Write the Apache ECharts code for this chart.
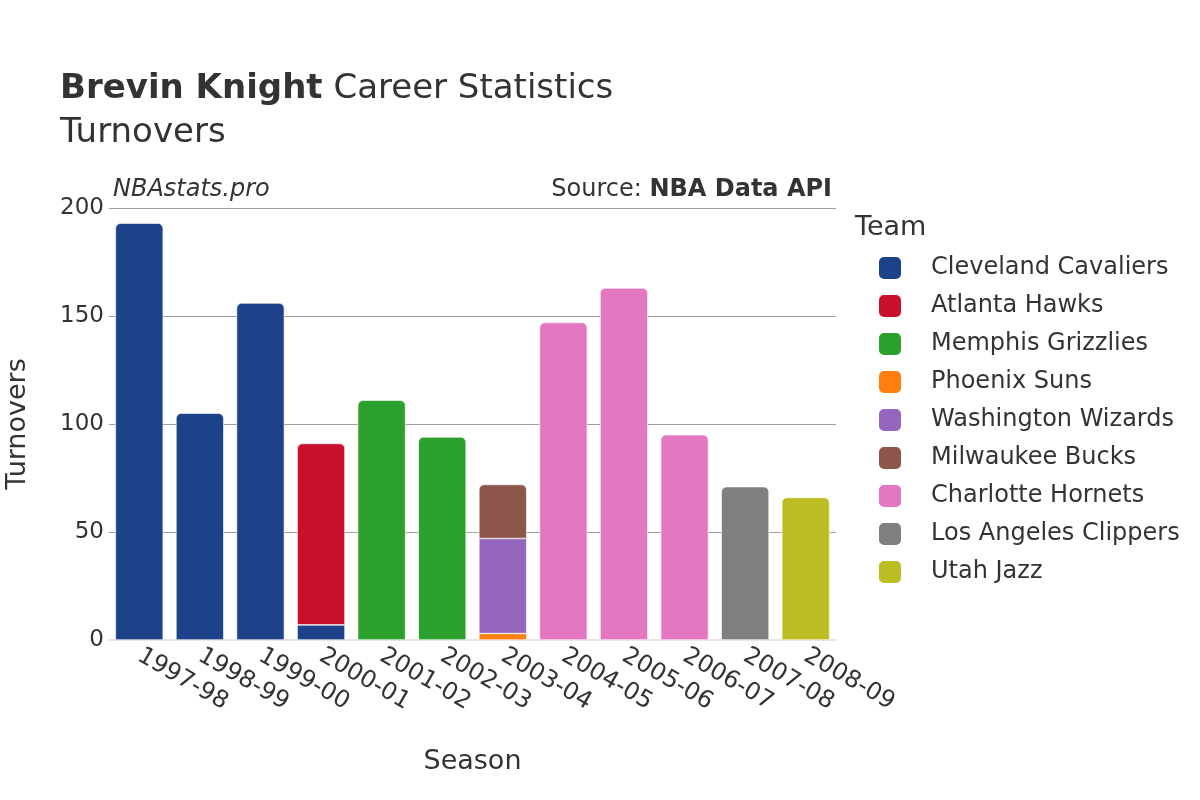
<!DOCTYPE html>
<html>
<head>
<meta charset="utf-8">
<script src="https://cdn.jsdelivr.net/npm/echarts@6/dist/echarts.min.js"></script>
<style>html,body{margin:0;padding:0;background:#fff}#c{width:1200px;height:800px}</style>
</head>
<body>
<div id="c"></div>
<script>
const seasons = ['1997-98','1998-99','1999-00','2000-01','2001-02','2002-03','2003-04','2004-05','2005-06','2006-07','2007-08','2008-09'];
const teams = ['Cleveland Cavaliers','Atlanta Hawks','Memphis Grizzlies','Phoenix Suns','Washington Wizards','Milwaukee Bucks','Charlotte Hornets','Los Angeles Clippers','Utah Jazz'];
const teamColors = ['#1d428a','#c8102e','#2ca02c','#ff7f0e','#9467bd','#8c564b','#e377c2','#7f7f7f','#bcbd22'];
const cleveland  = [193,105,156,7,0,0,0,0,0,0,0,0];
const atlanta    = [0,0,0,84,0,0,0,0,0,0,0,0];
const memphis    = [0,0,0,0,111,94,0,0,0,0,0,0];
const phoenix    = [0,0,0,0,0,0,3,0,0,0,0,0];
const washington = [0,0,0,0,0,0,44,0,0,0,0,0];
const milwaukee  = [0,0,0,0,0,0,25,0,0,0,0,0];
const charlotte  = [0,0,0,0,0,0,0,147,163,95,0,0];
const clippers   = [0,0,0,0,0,0,0,0,0,0,71,0];
const utah       = [0,0,0,0,0,0,0,0,0,0,0,66];
const yTicks = [0,50,100,150,200];

const values = [cleveland,atlanta,memphis,phoenix,washington,milwaukee,charlotte,clippers,utah];
const topIdx = seasons.map((s,i)=>{let t=-1; values.forEach((v,k)=>{if(v[i]>0) t=k;}); return t;});

const FONT = 'DejaVu Sans';
const series = teams.map((name,k)=>({
  name, type:'bar', stack:'total', barCategoryGap:'21%',
  itemStyle:{color:teamColors[k], borderColor:'#fff', borderWidth:0.6},
  data: values[k].map((v,i)=> v>0 ? {value:v, itemStyle:{borderRadius: topIdx[i]===k ? [5,5,0,0] : 0}} : null)
}));

const chart = echarts.init(document.getElementById('c'), null, {renderer:'canvas'});
chart.setOption({
  animation:false,
  backgroundColor:'#fff',
  textStyle:{fontFamily:FONT},
  grid:{left:109, right:364, top:208, bottom:160, containLabel:false, outerBoundsMode:'none'},
  graphic:[
    {type:'text', left:60, top:72, style:{text:'{b|Brevin Knight} Career Statistics', rich:{b:{fontWeight:'bold', fontSize:34, fill:'#333', fontFamily:FONT}}, fontSize:34, fill:'#333', fontFamily:FONT}},
    {type:'text', left:60, top:116, style:{text:'Turnovers', fontSize:34, fill:'#333', fontFamily:FONT}},
    {type:'text', left:113, top:178, style:{text:'NBAstats.pro', fontSize:24, fontStyle:'italic', fill:'#333', fontFamily:FONT}},
    {type:'text', right:368, top:178, style:{text:'Source: {b|NBA Data API}', rich:{b:{fontWeight:'bold', fontSize:24, fill:'#333', fontFamily:FONT}}, fontSize:24, fill:'#333', fontFamily:FONT, align:'right'}},
    {type:'text', left:855, top:214, style:{text:'Team', fontSize:27, fill:'#333', fontFamily:FONT}}
  ],
  legend:{
    orient:'vertical', left:872, top:250, itemWidth:24, itemHeight:24, itemGap:12,
    icon:'roundRect', data:teams,
    textStyle:{fontSize:24, color:'#333', fontFamily:FONT, padding:[0,0,0,24]}
  },
  xAxis:{
    type:'category', data:seasons,
    name:'Season', nameLocation:'middle', nameGap:108,
    nameTextStyle:{fontSize:27, color:'#333', fontFamily:FONT},
    axisTick:{show:false},
    axisLine:{show:true, lineStyle:{color:'#e6e6e6', width:2}},
    axisLabel:{rotate:-30, fontSize:24, color:'#333', margin:14, interval:0, fontFamily:FONT}
  },
  yAxis:{
    type:'value', min:yTicks[0], max:yTicks[yTicks.length-1], interval:50,
    name:'Turnovers', nameLocation:'middle', nameGap:78,
    nameTextStyle:{fontSize:27, color:'#333', fontFamily:FONT},
    axisLine:{show:false}, axisTick:{show:false},
    axisLabel:{fontSize:23, color:'#333', margin:5, fontFamily:FONT},
    splitLine:{lineStyle:{color:'#a0a0a0', width:1}}
  },
  series
});
</script>
</body>
</html>
